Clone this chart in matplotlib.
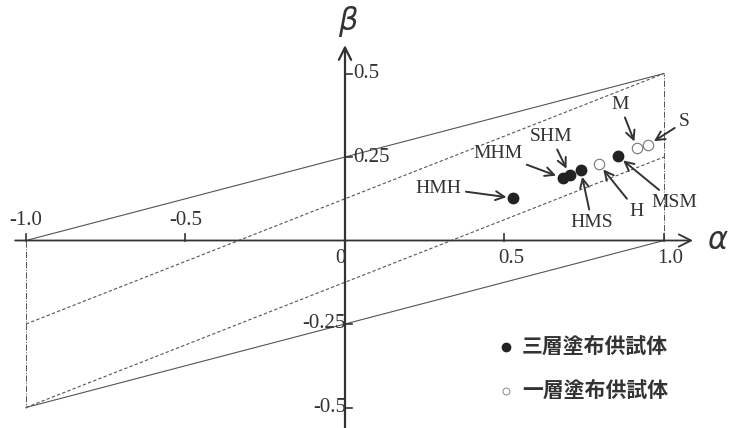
import matplotlib
matplotlib.use('Agg')
import matplotlib.pyplot as plt

# specimen data (alpha, beta)
labels = ['HMH', 'MHM', 'SHM', 'HMS', 'H', 'MSM', 'M', 'S']
alpha = [0.528, 0.682, 0.704, 0.739, 0.796, 0.855, 0.915, 0.950]
beta = [0.127, 0.187, 0.196, 0.211, 0.229, 0.253, 0.277, 0.286]
filled = [True, True, True, True, False, True, False, False]

# label text positions
label_x = [0.294, 0.480, 0.646, 0.774, 0.915, 1.031, 0.862, 1.063]
label_y = [0.157, 0.259, 0.310, 0.055, 0.088, 0.115, 0.406, 0.355]

xticks = [-1.0, -0.5, 0.5, 1.0]
xtick_labels = ['-1.0', '-0.5', '0.5', '1.0']
yticks = [0.5, 0.25, -0.25, -0.5]
ytick_labels = ['0.5', '0.25', '-0.25', '-0.5']

legend_labels = ['三層塗布供試体', '一層塗布供試体']

ink = '#333333'
thin = '#555555'

fig = plt.figure(figsize=(7.30, 4.28), dpi=100)
ax = fig.add_axes([0, 0, 1, 1])
ax.set_xlim(-345 / 319, (730 - 345) / 319)
ax.set_ylim(-(428 - 240.5) / 334, 240.5 / 334)
ax.set_axis_off()

serif = 'Liberation Serif'

# region boundaries
ax.plot([-1, 1], [0, 0.5], color=thin, lw=0.8)
ax.plot([-1, 1], [-0.5, 0], color=thin, lw=0.8)
ax.plot([-1, -1], [0, -0.5], color=thin, lw=0.7, linestyle='-.')
ax.plot([1, 1], [0, 0.5], color=thin, lw=0.7, linestyle='-.')
ax.plot([-1, 1], [-0.25, 0.5], color=thin, lw=0.8, linestyle=(0, (3, 2)))
ax.plot([-1, 1], [-0.5, 0.25], color=thin, lw=0.8, linestyle=(0, (3, 2)))

# axes with arrows
ax.annotate('', xy=(1.091, 0), xytext=(-1.034, 0),
            arrowprops=dict(arrowstyle='->', color=ink, lw=1.3,
                            mutation_scale=22, shrinkA=0, shrinkB=0))
ax.annotate('', xy=(0, 0.585), xytext=(0, -0.5614),
            arrowprops=dict(arrowstyle='->', color=ink, lw=1.6,
                            mutation_scale=22, shrinkA=0, shrinkB=0))
ax.text(1.17, 0.0, r'$\alpha$', fontsize=22, color=ink, ha='center', va='center')
ax.text(0.01, 0.655, r'$\beta$', fontsize=22, color=ink, ha='center', va='center')

# ticks
for x, lab in zip(xticks, xtick_labels):
    ax.plot([x, x], [0, 0.02], color=ink, lw=1.2)
    if x < 0:
        ax.text(x, 0.03, lab, fontsize=15, family=serif, color=ink,
                ha='center', va='bottom')
    else:
        ax.text(x + 0.02, -0.025, lab, fontsize=15, family=serif, color=ink,
                ha='center', va='top')
ax.text(-0.015, -0.025, '0', fontsize=15, family=serif, color=ink,
        ha='center', va='top')
for y, lab in zip(yticks, ytick_labels):
    ax.plot([0, 0.022], [y, y], color=ink, lw=1.2)
    if y > 0:
        ax.text(0.026, y, lab, fontsize=15, family=serif, color=ink,
                ha='left', va='center')
    else:
        ax.text(0.003, y, lab, fontsize=15, family=serif, color=ink,
                ha='right', va='center')

# specimens
for a, b, f in zip(alpha, beta, filled):
    if f:
        ax.plot(a, b, 'o', ms=7.5, color='#222222')
    else:
        ax.plot(a, b, 'o', ms=7.5, mfc='white', mec='#777777', mew=0.8)

for lab, a, b, lx, ly in zip(labels, alpha, beta, label_x, label_y):
    ax.annotate(lab, xy=(a, b), xytext=(lx, ly), fontsize=14, family=serif,
                color=ink, ha='center', va='center',
                arrowprops=dict(arrowstyle='->', color=ink, lw=1.4,
                                mutation_scale=16, shrinkA=1, shrinkB=5))

# legend
leg_y = [-0.318, -0.45]
ax.plot(0.506, leg_y[0], 'o', ms=6, color='#222222')
ax.plot(0.506, leg_y[1], 'o', ms=5, mfc='white', mec='#888888', mew=0.7)
for y, t in zip(leg_y, legend_labels):
    ax.text(0.555, y, t, fontsize=15, fontweight='bold', color=ink,
            family=['Noto Sans CJK JP', 'DejaVu Sans'], ha='left', va='center')

fig.savefig('out.png', dpi=100)
